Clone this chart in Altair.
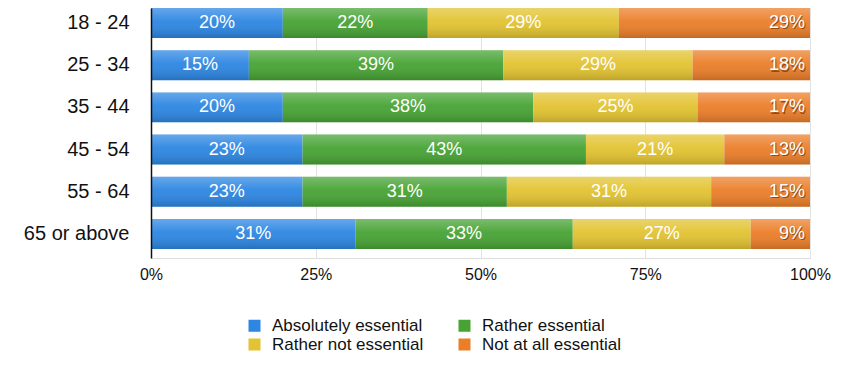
import altair as alt
import pandas as pd

ages = ["18 - 24", "25 - 34", "35 - 44", "45 - 54", "55 - 64", "65 or above"]
series = ["Absolutely essential", "Rather essential", "Rather not essential", "Not at all essential"]
absolutely = [20, 15, 20, 23, 23, 31]
rather = [22, 39, 38, 43, 31, 33]
rather_not = [29, 29, 25, 21, 31, 27]
not_at_all = [29, 18, 17, 13, 15, 9]
colors = ["#2c86e2", "#47a334", "#e2c331", "#eb7e29"]
tick_values = [0, 0.25, 0.5, 0.75, 1]

rows = []
for s_i, (name, vals) in enumerate(zip(series, [absolutely, rather, rather_not, not_at_all])):
    for a_i, age in enumerate(ages):
        rows.append({"age": age, "series": name, "order": s_i, "value": vals[a_i],
                     "label": f"{vals[a_i]}%"})
df = pd.DataFrame(rows)

base = alt.Chart(df).transform_stack(
    stack="value", groupby=["age"], as_=["v0", "v1"],
    sort=[alt.SortField("order", order="ascending")]
).transform_joinaggregate(
    total="sum(value)", groupby=["age"]
).transform_calculate(
    f0="datum.v0 / datum.total",
    f1="datum.v1 / datum.total",
    mid="(datum.v0 + datum.v1) / 2 / datum.total",
)

y_enc = alt.Y(
    "age:N", sort=ages, title=None,
    scale=alt.Scale(paddingInner=0.29, paddingOuter=0.107, align=0),
    axis=alt.Axis(domain=True, domainColor="#111111", domainWidth=1.5, ticks=False,
                  labelFontSize=20, labelPadding=22, labelColor="#111111",
                  labelFont="Liberation Sans", grid=False, zindex=1),
)
x_enc = alt.X(
    "f0:Q", title=None,
    scale=alt.Scale(domain=[0, 1], nice=False),
    axis=alt.Axis(format=".0%", values=tick_values, domain=False, ticks=False,
                  grid=True, gridColor="#e2e2e2", gridWidth=1, labelFlush=False,
                  labelFontSize=16, labelPadding=8, labelColor="#111111",
                  labelFont="Liberation Sans"),
)

bars = base.mark_bar().encode(
    y=y_enc, x=x_enc, x2="f1:Q",
    color=alt.Color(
        "series:N", sort=series,
        scale=alt.Scale(domain=series, range=colors),
        legend=alt.Legend(
            title=None, orient="none", legendX=95, legendY=309,
            direction="horizontal", columns=2, symbolType="square",
            symbolSize=144, symbolStrokeWidth=0, labelFontSize=17,
            labelFont="Liberation Sans", labelColor="#111111",
            labelOffset=9, columnPadding=32, rowPadding=1,
        ),
    ),
)

shade = base.mark_bar(
    color=alt.LinearGradient(
        gradient="linear", x1=0, x2=0, y1=0, y2=1,
        stops=[alt.GradientStop(color="rgba(255,255,255,0.28)", offset=0),
               alt.GradientStop(color="rgba(255,255,255,0.05)", offset=0.45),
               alt.GradientStop(color="rgba(0,0,0,0.16)", offset=1)],
    )
).encode(y="age:N", x="f0:Q", x2="f1:Q")

mid_text = base.transform_filter("datum.order < 3").mark_text(
    color="white", fontSize=18, font="Liberation Sans", align="center", baseline="middle"
).encode(y="age:N", x="mid:Q", text="label:N")

end_shadow = base.transform_filter("datum.order == 3").mark_text(
    color="#4a1e00", opacity=0.55, fontSize=18, font="Liberation Sans",
    align="right", baseline="middle", dx=-4, dy=1.5
).encode(y="age:N", x="f1:Q", text="label:N")

end_text = base.transform_filter("datum.order == 3").mark_text(
    color="white", fontSize=18, font="Liberation Sans",
    align="right", baseline="middle", dx=-5
).encode(y="age:N", x="f1:Q", text="label:N")

chart = alt.layer(bars, shade, mid_text, end_shadow, end_text).properties(
    width=659, height=250,
    autosize=alt.AutoSizeParams(type="none"),
    padding={"left": 143, "top": 0, "right": 46, "bottom": 99},
).configure_view(stroke=None).configure(font="Liberation Sans")

chart.save("out.html", embed_options={"renderer": "svg", "actions": False})
